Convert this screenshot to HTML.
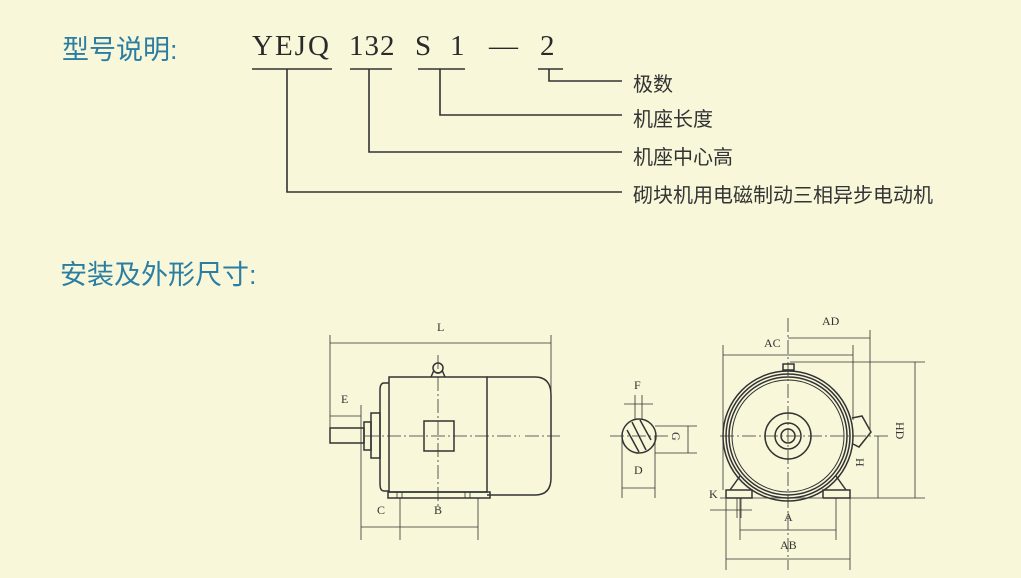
<!DOCTYPE html>
<html><head><meta charset="utf-8"><style>
html,body{margin:0;padding:0;background:#f8f7da;}
body{width:1021px;height:578px;overflow:hidden;position:relative;}
.h{position:absolute;color:#2b7ea2;font-family:"Liberation Sans","Noto Sans CJK SC",sans-serif;font-size:27px;}
.m{position:absolute;font-family:"Liberation Serif",serif;font-size:29px;color:#2a2a2a;top:30px;letter-spacing:1px;}
.l{position:absolute;left:633px;font-family:"Liberation Sans","Noto Sans CJK SC",sans-serif;font-size:20px;color:#333;}
svg{position:absolute;left:0;top:0;}
</style></head><body>
<div class="h" style="left:62px;top:28px;">型号说明:</div>
<div class="m" style="left:252px;letter-spacing:2px;">YEJQ</div>
<div class="m" style="left:349px;">132</div>
<div class="m" style="left:415px;">S</div>
<div class="m" style="left:450px;">1</div>
<div class="m" style="left:489px;">—</div>
<div class="m" style="left:540px;">2</div>
<div class="l" style="top:68px;">极数</div>
<div class="l" style="top:103px;">机座长度</div>
<div class="l" style="top:141px;">机座中心高</div>
<div class="l" style="top:179px;">砌块机用电磁制动三相异步电动机</div>
<div class="h" style="left:60px;top:253px;">安装及外形尺寸:</div>
<svg width="1021" height="578" viewBox="0 0 1021 578" fill="none" stroke="#333" font-family="Liberation Serif, serif" font-size="12">
<g stroke-width="1.6">
<path d="M252 69H332M350 69H392M418 69H465M538 69H563"/>
<path d="M287 69V192H622M369 69V152H622M440 69V115H622M549 69V81H622"/>
</g>
<g stroke-width="1.5">
<rect x="389" y="377" width="98" height="115"/>
<path d="M487 377H535Q551 377 551 395V478Q551 495 535 495H487"/>
<path d="M389 383H384Q380 383 380 390V484Q380 491 384 491H389"/>
<rect x="371" y="413" width="9" height="45"/>
<rect x="364" y="422" width="7" height="28"/>
<rect x="330" y="428" width="34" height="15"/>
<rect x="424" y="421" width="30" height="30"/>
<rect x="388" y="492" width="102" height="6"/>
<circle cx="438" cy="368" r="5"/>
<path d="M431 377L434 370M445 377L442 370"/>
</g>
<g stroke-width="0.8">
<path d="M330 335V440M551 335V430M330 343H551M330 416H361M361 405V540M400 498V540M478 498V540M361 527H478M400 527V527"/>
<path d="M438 355V510M365 436H520M525 436H560" stroke-dasharray="14 3 2 3"/>
<path d="M397 492V498M402 492V498M465 492V498M470 492V498"/>
</g>
<g stroke="none" fill="#333">
<text x="437" y="331">L</text><text x="341" y="403">E</text><text x="377" y="514">C</text><text x="434" y="514">B</text>
<text x="634" y="389">F</text><text x="634" y="474">D</text>
<text x="822" y="325">AD</text><text x="764" y="347">AC</text><text x="784" y="521">A</text><text x="780" y="549">AB</text><text x="709" y="498">K</text>
<text transform="translate(672,432) rotate(90)">G</text>
<text transform="translate(856,458) rotate(90)">H</text>
<text transform="translate(896,422) rotate(90)">HD</text>
</g>
<g stroke-width="1.5">
<circle cx="639" cy="436" r="17"/>
<path d="M632 422L646 450M627 430L639 452M640 420L651 440"/>
<circle cx="788" cy="436" r="65"/>
<circle cx="788" cy="436" r="62"/>
<circle cx="788" cy="436" r="59"/>
<circle cx="788" cy="436" r="56" stroke-width="1"/>
<circle cx="788" cy="436" r="23"/>
<circle cx="788" cy="436" r="13"/>
<circle cx="788" cy="436" r="7"/>
<path d="M726 498V490H752V498H726M823 498V490H850V498H823"/>
<path d="M730 490L740 476M846 490L836 476"/>
<path d="M852 418L862 416L871 432L859 447L853 444"/>
<rect x="783" y="364" width="11" height="6"/>
</g>
<g stroke-width="0.8">
<path d="M624 404H653M635 395V420M642 395V420M622 436V498M655 436V498M622 488H655M655 426H697M655 453H697M688 426V453"/>
<path d="M610 436H670M720 436H888M788 318V570" stroke-dasharray="14 3 2 3"/>
<path d="M723 345V490M853 345V420M870 330V430M723 355H853M788 338H870M790 362H925M720 498H925M878 436V498M915 362V498"/>
<path d="M740 498V540M836 498V540M740 530H836M726 498V570M850 498V570M726 559H850M710 510H752M737 498V518M741 498V518"/>
</g>
</svg>
</body></html>
